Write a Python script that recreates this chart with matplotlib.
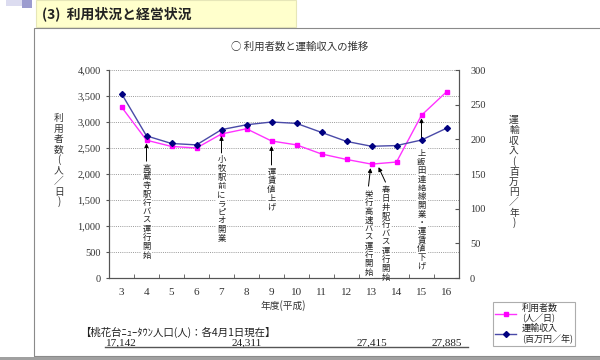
import numpy as np
import matplotlib.pyplot as plt
from matplotlib.patches import Rectangle
from matplotlib.lines import Line2D
from matplotlib.ticker import FuncFormatter, MultipleLocator, FixedLocator
from matplotlib.transforms import offset_copy

plt.rcParams['font.family'] = ['Noto Sans CJK JP', 'DejaVu Sans']

# データ
years = [3, 4, 5, 6, 7, 8, 9, 10, 11, 12, 13, 14, 15, 16]
users = [3290, 2650, 2530, 2500, 2770, 2870, 2635, 2560, 2385, 2280, 2190, 2230, 3130, 3580]
revenue = [266, 205, 194, 192, 214, 221, 225, 223, 210, 197, 190, 191, 199, 216]

pop_years = [3, 8, 13, 16]
pop_labels = ['17,142', '24,311', '27,415', '27,885']

event_years = [4, 7, 9, 13, 13, 15]
event_labels = ['高蔵寺駅行バス運行開始', '小牧駅前にラピオ開業', '運賃値上げ',
                '栄行高速バス運行開始', '春日井駅行バス運行開始', '上飯田連絡線開業・運賃値下げ']

W, H = 600, 360
serif = ['Liberation Serif', 'Noto Sans CJK JP']
gray_txt = '#333333'


def fx(px):
    return px / W


def fy(py):
    return 1 - py / H


fig = plt.figure(figsize=(6, 3.6), dpi=100)

# 枠と見出し
fig.patches.append(Rectangle((fx(6), fy(6)), 16 / W, 6 / H, transform=fig.transFigure,
                             facecolor='#DCDCF0', edgecolor='none'))
fig.patches.append(Rectangle((fx(22), fy(8)), 10 / W, 8 / H, transform=fig.transFigure,
                             facecolor='#9C9CCF', edgecolor='none'))
fig.patches.append(Rectangle((fx(36), fy(27)), 260 / W, 27 / H, transform=fig.transFigure,
                             facecolor='#FFFFCC', edgecolor='#E6E6B8', lw=0.8))
fig.text(fx(42), fy(14), '(3)  利用状況と経営状況', fontsize=10, fontweight='bold',
         va='center', ha='left', color='#222222')
fig.patches.append(Rectangle((fx(34), fy(356)), 570 / W, 328 / H, transform=fig.transFigure,
                             fill=False, edgecolor='#8A8A8A', lw=0.8))
fig.patches.append(Rectangle((0, 0), 1, 3 / H, transform=fig.transFigure,
                             facecolor='#A0A0A0', edgecolor='none'))

fig.text(fx(300), fy(47), '○ 利用者数と運輸収入の推移', fontsize=7.5, ha='center', va='center',
         color=gray_txt)

# 軸
ax = fig.add_axes([fx(109), fy(278), 350 / W, 208 / H])
ax2 = ax.twinx()

ax.plot(years, users, color='#FF33FF', lw=1, marker='s', ms=3.5,
        mfc='#FF00FF', mec='#FF00FF', zorder=4)
ax2.plot(years, revenue, color='#4A4AA8', lw=1, marker='D', ms=3,
         mfc='#000080', mec='#000080', zorder=4)

ax.set_xlim(2.5, 16.5)
ax.set_ylim(0, 4000)
ax2.set_ylim(0, 300)

ax.yaxis.set_major_locator(MultipleLocator(500))
ax.yaxis.set_major_formatter(FuncFormatter(lambda v, p: f'{int(v):,}'))
ax2.yaxis.set_major_locator(MultipleLocator(50))

ax.xaxis.set_major_locator(FixedLocator(years))
ax.xaxis.set_minor_locator(FixedLocator(np.arange(2.5, 17, 1)))
ax.tick_params(axis='x', which='major', length=0, pad=7, labelsize=8, labelcolor=gray_txt)
ax.tick_params(axis='x', which='minor', length=3, direction='in', color='#555555')
ax.tick_params(axis='y', length=2, direction='out', pad=4, labelsize=7.5, labelcolor=gray_txt,
               color='#555555')
ax2.tick_params(axis='y', length=3, direction='in', pad=8, labelsize=7.5, labelcolor=gray_txt,
                color='#555555')
for lab in ax.get_xticklabels() + ax.get_yticklabels() + ax2.get_yticklabels():
    lab.set_family(serif)

ax.grid(axis='y', color='#9A9A9A', lw=0.7, ls=(0, (1, 1.2)))
ax.set_axisbelow(True)
for a in (ax, ax2):
    a.spines['top'].set_visible(False)
    a.spines['left'].set_color('#555555')
    a.spines['right'].set_color('#555555')
    a.spines['bottom'].set_color('#555555')
    a.patch.set_visible(False)


def vertical(axis, x, y, text, dx, dy, step, size):
    for i, ch in enumerate(text):
        t = axis.annotate(ch, xy=(x, y), xytext=(dx, dy - i * step), textcoords='offset pixels',
                          ha='center', va='center', fontsize=size, color='#222222', zorder=5)
        t.set_bbox(dict(facecolor='white', edgecolor='none', pad=0.6))


# 出来事の注記: (先端dx, 先端dy, 根元dx, 根元dy, 文字dy) 点からのピクセル
offsets = [
    (0, -3, 0, -21, -28),
    (0, -2, 0, -19, -26),
    (0, -5, 0, -24, -31),
    (-1, -4, -3, -22, -30),
    (7, -3, 14, -18, -26),
    (0, -3, 0, -24, -38),
]
for yr, lab, (tx, ty, bx, by, ly) in zip(event_years, event_labels, offsets):
    yv = users[years.index(yr)]
    tip = offset_copy(ax.transData, fig=fig, x=tx, y=ty, units='dots')
    ax.annotate('', xy=(yr, yv), xycoords=tip, xytext=(bx - tx, by - ty),
                textcoords='offset pixels',
                arrowprops=dict(arrowstyle='-|>', color='black', lw=0.7,
                                mutation_scale=6, shrinkA=0, shrinkB=0),
                zorder=5)
    vertical(ax, yr, yv, lab, bx, ly, 8.7, 6)

# 縦書きの軸ラベル
for i, ch in enumerate('利用者数(人／日)'):
    fig.text(fx(59), fy(118 + i * 10.5), ch, fontsize=7, ha='center', va='center', color=gray_txt)
for i, ch in enumerate('運輸収入(百万円／年)'):
    fig.text(fx(514), fy(120 + i * 10.3), ch, fontsize=7, ha='center', va='center', color=gray_txt)

fig.text(fx(283), fy(306), '年度(平成)', fontsize=7, ha='center', va='center', color=gray_txt)

# 人口
fig.text(fx(80), fy(332), '【桃花台ﾆｭｰﾀｳﾝ人口(人)：各4月1日現在】', fontsize=7.5,
         ha='left', va='center', color='#222222')
for yr, lab in zip(pop_years, pop_labels):
    ax.annotate(lab, xy=(yr, 0), xycoords=('data', 'axes fraction'),
                xytext=(0, -65), textcoords='offset pixels', ha='center', va='center',
                fontsize=8, family=serif, color='#222222', annotation_clip=False)
fig.add_artist(Line2D([fx(105), fx(468)], [fy(347), fy(347)], color='#555555', lw=1))

# 凡例
handles = [
    Line2D([], [], color='#FF33FF', lw=1, marker='s', ms=3.5, mfc='#FF00FF', mec='#FF00FF'),
    Line2D([], [], color='#4A4AA8', lw=1, marker='D', ms=3, mfc='#000080', mec='#000080'),
]
leg = fig.legend(handles, ['利用者数\n(人／日)', '運輸収入\n(百万円／年)'],
                 loc='upper left', bbox_to_anchor=(fx(493), fy(302)), fontsize=6.5,
                 frameon=True, fancybox=False, edgecolor='#999999', handlelength=2.4,
                 borderpad=0.2, labelspacing=0.12, handletextpad=0.6, borderaxespad=0)
leg.get_frame().set_linewidth(0.8)
for t in leg.get_texts():
    t.set_color('#222222')
    t.set_linespacing(1.1)

fig.savefig('out.png', dpi=100)
